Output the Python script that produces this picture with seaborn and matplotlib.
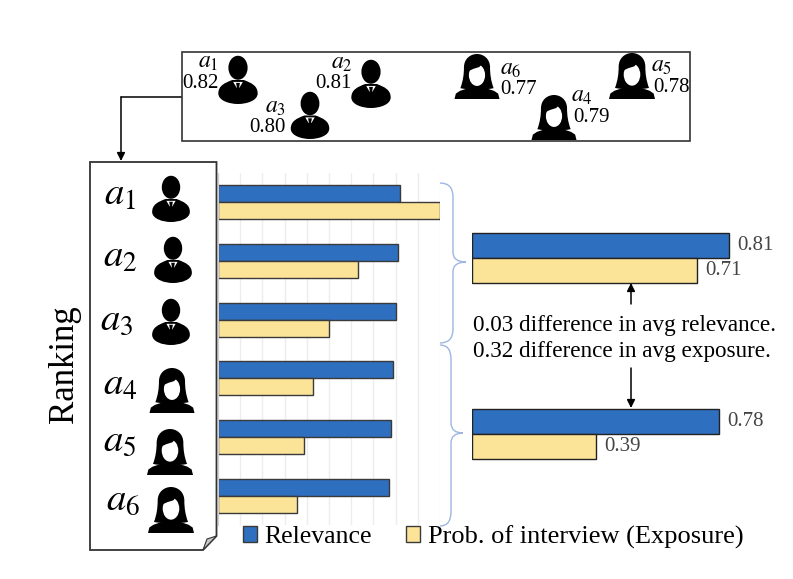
import matplotlib
matplotlib.use("Agg")
import matplotlib.pyplot as plt
import pandas as pd
import seaborn as sns
from matplotlib.patches import Ellipse, PathPatch, Polygon, Rectangle
from matplotlib.path import Path

candidates = ['a1', 'a2', 'a3', 'a4', 'a5', 'a6']
relevance = [0.82, 0.81, 0.80, 0.79, 0.78, 0.77]
exposure = [1.00, 0.63, 0.50, 0.43, 0.387, 0.356]
groups = ['men', 'women']
avg_relevance = [0.81, 0.78]
avg_exposure = [0.71, 0.39]
rel_name = 'Relevance'
exp_name = 'Prob. of interview (Exposure)'
note_lines = ['0.03 difference in avg relevance.', '0.32 difference in avg exposure.']

BLUE = '#2e6fbf'
YELLOW = '#fbe398'
EDGE = '#3a3a3a'
BRACE = '#9db6e2'
W, H = 793, 579

sns.set_style('white')
plt.rcParams['font.family'] = ['Liberation Serif', 'DejaVu Serif']
plt.rcParams['mathtext.fontset'] = 'stix'
plt.rcParams['text.color'] = 'black'

fig = plt.figure(figsize=(W / 100, H / 100), dpi=100)


def px_axes(x0, y0, x1, y1):
    return fig.add_axes([x0 / W, 1 - y1 / H, (x1 - x0) / W, (y1 - y0) / H])


# per candidate bars
df = pd.DataFrame({'who': candidates * 2,
                   'value': relevance + exposure,
                   'metric': [rel_name] * 6 + [exp_name] * 6})
ax = px_axes(218, 173, 440, 525)
sns.barplot(data=df, y='who', x='value', hue='metric', orient='h', ax=ax,
            palette=[BLUE, YELLOW], saturation=1, width=0.58, gap=0,
            edgecolor=EDGE, linewidth=1)
ax.set_xlim(0, 1)
ax.set_ylim(5.5, -0.5)
ax.set_xticks([i / 10 for i in range(11)])
ax.set_xticklabels([])
ax.set_yticks([])
ax.set_xlabel('')
ax.set_ylabel('')
ax.grid(axis='x', color='#ededed', lw=1)
ax.set_axisbelow(True)
sns.despine(ax=ax, top=True, right=True, bottom=True)
ax.spines['left'].set_color('#d0d0d0')
handles, labels = ax.get_legend_handles_labels()
leg = ax.legend(handles, labels, ncol=2, frameon=False, fontsize=19,
                loc='center left', bbox_to_anchor=(243 / W, 1 - 537 / H),
                bbox_transform=fig.transFigure, borderpad=0, borderaxespad=0,
                handlelength=0.53, handleheight=0.53, handletextpad=0.28, columnspacing=1.3)
leg.get_texts()[0].set_fontsize(18.5)

# group averages
avg = pd.DataFrame({'group': groups * 2,
                    'value': avg_relevance + avg_exposure,
                    'metric': [rel_name] * 2 + [exp_name] * 2})
ax2 = px_axes(472, 170, 789, 522)
sns.barplot(data=avg, y='group', x='value', hue='metric', orient='h', ax=ax2,
            palette=[BLUE, YELLOW], saturation=1, width=0.286, gap=0,
            edgecolor='#222222', linewidth=1, legend=False)
ax2.set_xlim(0, 1)
ax2.set_ylim(1.5, -0.5)
ax2.axis('off')
for c in ax2.containers:
    ax2.bar_label(c, fmt='%.2f', padding=6, fontsize=15, color='#444444')

# overlay in pixel coordinates for the drawn parts
ov = px_axes(0, 0, W, H)
ov.set_xlim(0, W)
ov.set_ylim(H, 0)
ov.axis('off')


def man(cx, top, h):
    def p(u, v):
        return (cx + u * h, top + v * h)
    ov.add_patch(Ellipse(p(0, 0.245), 0.40 * h, 0.50 * h, color='black', lw=0))
    verts = [p(-0.12, 0.50), p(-0.28, 0.56), p(-0.41, 0.62), p(-0.41, 0.78),
             p(-0.41, 0.93), p(-0.18, 1.0), p(0, 1.0),
             p(0.18, 1.0), p(0.41, 0.93), p(0.41, 0.78),
             p(0.41, 0.62), p(0.28, 0.56), p(0.12, 0.50), p(-0.12, 0.50)]
    codes = [Path.MOVETO] + [Path.CURVE4] * 12 + [Path.CLOSEPOLY]
    ov.add_patch(PathPatch(Path(verts, codes), color='black', lw=0))
    ov.add_patch(Polygon([p(-0.10, 0.54), p(0.10, 0.54), p(0.03, 0.66), p(-0.03, 0.66)],
                         color='white', lw=0))
    ov.add_patch(Polygon([p(-0.04, 0.56), p(0.04, 0.56), p(0.02, 0.68), p(-0.02, 0.68)],
                         color='black', lw=0))


def woman(cx, top, h):
    def p(u, v):
        return (cx + u * h, top + v * h)
    verts = [p(-0.37, 0.76), p(-0.31, 0.60), p(-0.29, 0.45), p(-0.29, 0.30),
             p(-0.29, 0.10), p(-0.14, 0), p(0, 0),
             p(0.14, 0), p(0.29, 0.10), p(0.29, 0.30),
             p(0.29, 0.45), p(0.31, 0.60), p(0.37, 0.76),
             p(0.18, 0.80), p(-0.18, 0.80), p(-0.37, 0.76), p(-0.37, 0.76)]
    codes = [Path.MOVETO] + [Path.CURVE4] * 15 + [Path.CLOSEPOLY]
    ov.add_patch(PathPatch(Path(verts, codes), color='black', lw=0))
    ov.add_patch(Ellipse(p(0, 0.47), 0.36 * h, 0.48 * h, color='white', lw=0))
    hair = [p(-0.19, 0.38), p(-0.08, 0.33), p(0.05, 0.29), p(0.12, 0.21), p(0.15, 0.29),
            p(0.19, 0.38), p(0.20, 0.18), p(-0.20, 0.18)]
    ov.add_patch(Polygon(hair, color='black', lw=0))
    verts = [p(-0.50, 1.0), p(-0.47, 0.88), p(-0.38, 0.82), p(-0.20, 0.76),
             p(0.20, 0.76), p(0.38, 0.82), p(0.47, 0.88), p(0.50, 1.0), p(-0.50, 1.0)]
    codes = [Path.MOVETO] + [Path.LINETO] * 7 + [Path.CLOSEPOLY]
    ov.add_patch(PathPatch(Path(verts, codes), color='black', lw=0))


def brace(x0, xm, tip, y0, ytip, y1):
    verts = [(x0, y0), (xm, y0), (xm, y0 + 14),
             (xm, ytip - 10), (xm, ytip), (tip, ytip),
             (xm, ytip), (xm, ytip + 10),
             (xm, y1 - 14), (xm, y1), (x0, y1)]
    codes = [Path.MOVETO, Path.CURVE3, Path.CURVE3, Path.LINETO, Path.CURVE3, Path.CURVE3,
             Path.CURVE3, Path.CURVE3, Path.LINETO, Path.CURVE3, Path.CURVE3]
    ov.add_patch(PathPatch(Path(verts, codes), fc='none', ec=BRACE, lw=1))


def arrow(x0, y0, x1, y1):
    ov.annotate('', xy=(x1, y1), xytext=(x0, y0),
                arrowprops=dict(arrowstyle='-|>', color='black', lw=1.1,
                                shrinkA=0, shrinkB=0, mutation_scale=12))


# top box with the unordered candidates
ov.add_patch(Rectangle((181.5, 51.5), 508.5, 89, fc='white', ec='#333333', lw=1.2))
ov.plot([181, 121], [97, 97], color='black', lw=1.1)
arrow(121, 97, 121, 161)

for cx, top, h in [(238, 56, 48), (371, 60, 48), (310, 92, 47)]:
    man(cx, top, h)
for cx, top, h in [(477, 54, 45), (554, 95, 45), (632, 53, 46)]:
    woman(cx, top, h)

top_names = [(208, 63), (342, 64), (275, 108), (582, 97), (662, 67), (511, 70)]
top_scores = [(200, 84), (333, 84), (267, 128), (591, 117), (671, 87), (519, 89)]
for i, name in enumerate(candidates):
    ov.text(*top_names[i], f'$a_{name[1]}$', fontsize=17, ha='center', va='center')
    ov.text(*top_scores[i], f'{relevance[i]:.2f}', fontsize=15, ha='center', va='center')

# ranking document with folded corner
doc = [(90, 162), (216.5, 162), (216.5, 536), (203, 550), (90, 550), (90, 162)]
ov.add_patch(Polygon(doc, closed=True, fc='white', ec='#333333', lw=1.3, zorder=0.5))
ov.add_patch(Polygon([(203, 550), (216.5, 536), (207, 539)], closed=True,
                     fc='#c8c8c8', ec='#333333', lw=0.8))

for cx, top, h in [(171, 176, 46), (173, 237, 46), (171, 299, 46)]:
    man(cx, top, h)
for cx, top, h in [(172, 368, 45), (170, 429, 46), (171, 487, 46)]:
    woman(cx, top, h)

doc_names = [(120, 195), (120, 257), (117, 320), (120, 385), (120, 441), (123, 500)]
for (x, y), name in zip(doc_names, candidates):
    ov.text(x, y, f'$a_{name[1]}$', fontsize=28, ha='center', va='center')

ov.text(65, 364, 'Ranking', fontsize=25, rotation=90, ha='center', va='center')

brace(440, 453, 466, 183, 262, 343)
brace(440, 451, 463, 345, 433, 526)

ov.text(473, 325, note_lines[0], fontsize=16.7, ha='left', va='center')
ov.text(473, 351, note_lines[1], fontsize=16.7, ha='left', va='center')
arrow(631, 304, 631, 283)
arrow(631, 368, 631, 408)

fig.savefig('out.png', dpi=100)
